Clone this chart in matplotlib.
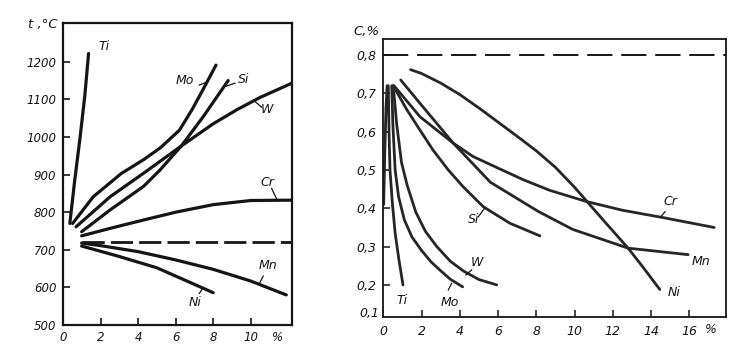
import matplotlib
matplotlib.use("Agg")
import matplotlib.pyplot as plt

plt.rcParams['font.family'] = ['DejaVu Sans']
plt.rcParams['font.style'] = 'italic'

# --- left: critical temperature vs alloy content ---
t_xticks = [0, 2, 4, 6, 8, 10]
t_yticks = [500, 600, 700, 800, 900, 1000, 1100, 1200]

t_ti_x = [0.35, 0.6, 0.9, 1.15, 1.35]
t_ti_y = [770, 880, 1000, 1110, 1222]
t_mo_x = [0.5, 1.6, 3.1, 4.3, 5.2, 6.2, 6.9, 7.5, 8.15]
t_mo_y = [770, 841, 903, 940, 972, 1018, 1075, 1130, 1191]
t_si_x = [0.98, 2.5, 4.27, 5.16, 6.3, 7.47, 8.8]
t_si_y = [748, 806, 868, 912, 976, 1054, 1150]
t_w_x = [0.68, 2.5, 4.27, 6.3, 8.0, 9.25, 10.5, 12.2]
t_w_y = [761, 841, 903, 976, 1035, 1072, 1105, 1143]
t_cr_x = [0.98, 2.5, 4.27, 6.0, 8.0, 10.0, 12.2]
t_cr_y = [737, 757, 779, 800, 820, 831, 832]
t_mn_x = [0.98, 2, 4, 6, 8, 10, 11.9]
t_mn_y = [718, 711, 695, 673, 648, 617, 580]
t_ni_x = [0.98, 3, 5, 6, 7, 8]
t_ni_y = [710, 682, 652, 630, 608, 586]
t_base = 721  # plain carbon steel level

# --- right: eutectoid carbon vs alloy content ---
c_xticks = [0, 2, 4, 6, 8, 10, 12, 14, 16]
c_yticks = [0.2, 0.3, 0.4, 0.5, 0.6, 0.7, 0.8]
c_ylabels = ['0,2', '0,3', '0,4', '0,5', '0,6', '0,7', '0,8']

c_ti_x = [0.02, 0.08, 0.14, 0.2, 0.26, 0.3, 0.35, 0.48, 0.62, 0.82, 1.03]
c_ti_y = [0.41, 0.55, 0.66, 0.72, 0.72, 0.6, 0.5, 0.41, 0.335, 0.265, 0.2]
c_mo_x = [0.44, 0.5, 0.62, 0.8, 1.1, 1.5, 2.0, 2.5, 3.0, 3.5, 4.15]
c_mo_y = [0.72, 0.62, 0.5, 0.43, 0.37, 0.325, 0.29, 0.26, 0.237, 0.215, 0.195]
c_w_x = [0.52, 0.7, 0.95, 1.25, 1.7, 2.2, 2.8, 3.5, 4.2, 5.0, 5.93]
c_w_y = [0.72, 0.62, 0.52, 0.46, 0.39, 0.34, 0.3, 0.262, 0.236, 0.214, 0.2]
c_si_x = [0.52, 1.2, 1.92, 2.6, 3.4, 4.18, 5.23, 6.62, 8.19]
c_si_y = [0.72, 0.66, 0.604, 0.552, 0.5, 0.456, 0.404, 0.361, 0.328]
c_cr_x = [0.56, 1.92, 3.66, 4.7, 7.3, 8.7, 10.6, 12.5, 14.6, 17.3]
c_cr_y = [0.72, 0.639, 0.57, 0.535, 0.475, 0.447, 0.418, 0.395, 0.376, 0.35]
c_mn_x = [0.91, 1.92, 3.66, 5.6, 8.1, 9.9, 12.8, 15.94]
c_mn_y = [0.735, 0.674, 0.57, 0.468, 0.392, 0.345, 0.296, 0.279]
c_ni_x = [1.43, 2, 3, 4, 5, 6, 7, 8, 9, 10, 10.63, 11.7, 12.8, 13.6, 14.46]
c_ni_y = [0.762, 0.752, 0.727, 0.697, 0.662, 0.625, 0.588, 0.55, 0.507,
          0.455, 0.419, 0.358, 0.296, 0.245, 0.188]
c_base = 0.8

fig = plt.figure(figsize=(7.34, 3.47), dpi=100)
ax1 = fig.add_axes([0.0862, 0.0634, 0.3112, 0.8703])
ax2 = fig.add_axes([0.5222, 0.0873, 0.4669, 0.8003])

ink = '#151515'
fs = 8.5


def label(ax, text, xy, xytext=None, start=None):
    # curve name with an optional short leader line
    if start is not None:
        ax.plot([start[0], xy[0]], [start[1], xy[1]], color=ink, lw=0.9)
    ax.text(xytext[0], xytext[1], text, fontsize=fs + 0.5, ha='center',
            va='center', color=ink)


# left panel
lw1 = 2.3
for xs, ys in [(t_ti_x, t_ti_y), (t_mo_x, t_mo_y), (t_si_x, t_si_y),
               (t_w_x, t_w_y), (t_cr_x, t_cr_y), (t_mn_x, t_mn_y),
               (t_ni_x, t_ni_y)]:
    ax1.plot(xs, ys, color=ink, lw=lw1, solid_capstyle='round',
             solid_joinstyle='round')
ax1.plot([0.98, 12.2], [t_base, t_base], color=ink, lw=2.0,
         dashes=(8, 2.2))

ax1.set_xlim(0, 12.19)
ax1.set_ylim(500, 1303)
ax1.set_xticks(t_xticks)
ax1.set_xticklabels([str(v) for v in t_xticks])
ax1.set_yticks(t_yticks)
ax1.set_yticklabels([str(v) for v in t_yticks])
ax1.tick_params(direction='in', length=5, width=1.2, labelsize=fs,
                colors=ink, pad=5)
ax1.tick_params(axis='x', pad=4)
for s in ax1.spines.values():
    s.set_linewidth(1.6)
    s.set_color(ink)

ax1.text(2.2, 1240, 'Ti', fontsize=fs + 0.5, ha='center', va='center', color=ink)
label(ax1, 'Mo', (7.68, 1146), (6.5, 1150), (7.26, 1138))
label(ax1, 'Si', (8.7, 1135), (9.6, 1152), (9.16, 1143))
label(ax1, 'W', (10.14, 1098), (10.85, 1073), (10.59, 1079))
label(ax1, 'Cr', (11.39, 835), (10.9, 880), (11.12, 863))
label(ax1, 'Mn', (10.46, 610), (10.9, 657), (10.67, 630))
label(ax1, 'Ni', (7.47, 599), (7.05, 560), (7.26, 584))
ax1.annotate('%', xy=(11.43, 0), xycoords=('data', 'axes fraction'),
             xytext=(0, -4), textcoords='offset points', ha='center',
             va='top', fontsize=fs, color=ink)
fig.text(0.038, 0.928, 't ,°C', fontsize=fs + 1, ha='left', va='center',
         color=ink)

# right panel
lw2 = 2.0
ink2 = '#262626'
for xs, ys in [(c_ti_x, c_ti_y), (c_mo_x, c_mo_y), (c_w_x, c_w_y),
               (c_si_x, c_si_y), (c_cr_x, c_cr_y), (c_mn_x, c_mn_y),
               (c_ni_x, c_ni_y)]:
    ax2.plot(xs, ys, color=ink2, lw=lw2, solid_capstyle='round',
             solid_joinstyle='round')
ax2.plot([0, 17.95], [c_base, c_base], color=ink, lw=1.4, dashes=(13, 4.5))

ax2.set_xlim(0, 17.92)
ax2.set_ylim(0.117, 0.842)
ax2.set_xticks(c_xticks)
ax2.set_xticklabels([str(v) for v in c_xticks])
ax2.set_yticks(c_yticks)
ax2.set_yticklabels(c_ylabels)
ax2.tick_params(direction='in', length=5, width=1.1, labelsize=fs + 0.5,
                colors=ink, pad=5)
ax2.tick_params(axis='x', pad=6)
for s in ax2.spines.values():
    s.set_linewidth(1.3)
    s.set_color(ink)

ax2.text(-0.012, 0.012, '0,1', transform=ax2.transAxes, ha='right',
         va='center', fontsize=fs + 0.5, color=ink)
ax2.text(0.96, 0.16, 'Ti', fontsize=fs + 0.5, ha='center', va='center', color=ink)
label(ax2, 'Mo', (3.57, 0.204), (3.49, 0.155), (3.4, 0.187))
label(ax2, 'W', (4.32, 0.226), (4.9, 0.258), (4.62, 0.239))
label(ax2, 'Si', (5.32, 0.402), (4.7, 0.372), (4.97, 0.378))
label(ax2, 'Cr', (14.5, 0.377), (15.0, 0.418), (14.73, 0.391))
ax2.text(16.6, 0.262, 'Mn', fontsize=fs + 0.5, ha='center', va='center', color=ink)
ax2.text(15.2, 0.18, 'Ni', fontsize=fs + 0.5, ha='center', va='center', color=ink)
ax2.annotate('%', xy=(17.13, 0), xycoords=('data', 'axes fraction'),
             xytext=(0, -4.3), textcoords='offset points', ha='center',
             va='top', fontsize=fs + 0.5, color=ink)
fig.text(0.481, 0.908, 'C,%', fontsize=fs + 1, ha='left', va='center',
         color=ink)

fig.savefig('out.png', dpi=100, facecolor='white')
